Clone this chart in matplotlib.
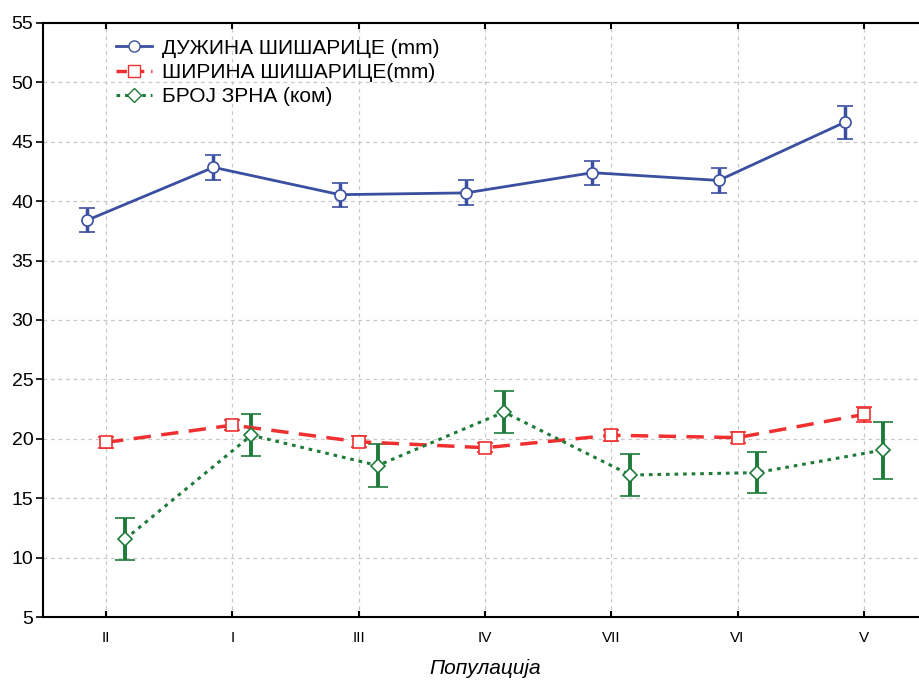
import numpy as np
import matplotlib.pyplot as plt
from matplotlib.lines import Line2D

plt.rcParams['font.family'] = ['Liberation Sans', 'DejaVu Sans']

populations = ['II', 'I', 'III', 'IV', 'VII', 'VI', 'V']

# ДУЖИНА ШИШАРИЦЕ (mm)
length_mean = [38.4, 42.85, 40.55, 40.7, 42.4, 41.75, 46.65]
length_err = [1.0, 1.05, 1.0, 1.05, 1.0, 1.05, 1.4]

# ШИРИНА ШИШАРИЦЕ (mm)
width_mean = [19.7, 21.15, 19.75, 19.25, 20.3, 20.1, 22.05]
width_err = [0.45, 0.45, 0.45, 0.4, 0.45, 0.45, 0.6]

# БРОЈ ЗРНА (ком)
grain_mean = [11.55, 20.3, 17.75, 22.25, 16.95, 17.15, 19.05]
grain_err = [1.75, 1.75, 1.8, 1.75, 1.75, 1.75, 2.4]

labels = ['ДУЖИНА ШИШАРИЦЕ (mm)', 'ШИРИНА ШИШАРИЦЕ(mm)', 'БРОЈ ЗРНА (ком)']
blue, red, green = '#3a4fa0', '#f03030', '#1e7b3a'

x = np.arange(len(populations))

fig = plt.figure(figsize=(9.19, 6.8), dpi=100)
ax = fig.add_axes([43 / 919, 63 / 680, 884 / 919, 594 / 680])

# blue series: solid with circles, shifted left
ax.errorbar(x - 0.15, length_mean, yerr=length_err, color=blue,
            lw=2, marker='o', ms=8, mfc='white', mec=blue, mew=1.2,
            elinewidth=2.5, capsize=6, capthick=2.5, zorder=4)
# red series: dashed with squares
ax.errorbar(x, width_mean, yerr=width_err, color=red,
            lw=2.5, ls=(0, (5, 3)), marker='s', ms=8, mfc='white', mec=red,
            mew=1.2, elinewidth=2, capsize=6, capthick=2, zorder=3)
# green series: dotted with diamonds, shifted right
ax.errorbar(x + 0.15, grain_mean, yerr=grain_err, color=green,
            lw=2.2, ls=(0, (1.2, 1.6)), marker='D', ms=7, mfc='white', mec=green,
            mew=1.2, elinewidth=2.8, capsize=7, capthick=2.8, zorder=3)

ax.set_xlim(-0.5, 6.5)
ax.set_ylim(5, 55)
ax.set_yticks(np.arange(5, 56, 5))
ax.set_xticks(x)
ax.set_xticklabels(populations)
ax.grid(True, ls=(0, (3, 3)), color='#c8c8c8', lw=0.9)
ax.set_axisbelow(True)

for s in ax.spines.values():
    s.set_linewidth(1.5)
ax.tick_params(axis='y', direction='out', length=5, width=1.2, labelsize=14, pad=2)
ax.tick_params(axis='x', direction='in', length=4, width=1.5, labelsize=11,
               top=True, pad=10)

ax.set_xlabel('Популација', fontsize=15, style='italic', labelpad=10)

handles = [
    Line2D([], [], color=blue, lw=2, marker='o', ms=8, mfc='white', mec=blue),
    Line2D([], [], color=red, lw=2.5, ls=(0, (3, 2)), marker='s', ms=8,
           mfc='white', mec=red),
    Line2D([], [], color=green, lw=2.2, ls=(0, (1.2, 1.6)), marker='D', ms=7,
           mfc='white', mec=green),
]
ax.legend(handles, labels, loc='upper left', bbox_to_anchor=(0.066, 0.998),
          frameon=False, fontsize=15, handlelength=1.75, handletextpad=0.45,
          labelspacing=0.25, borderaxespad=0.3)

fig.savefig('out.png', dpi=100)
